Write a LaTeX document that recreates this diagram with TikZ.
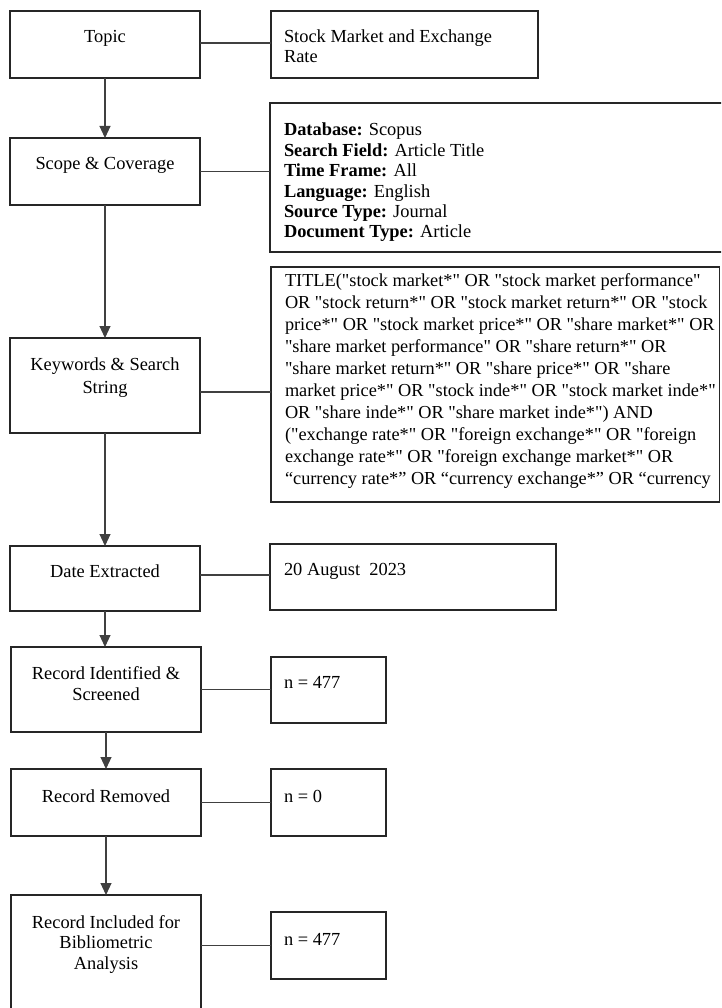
\documentclass[tikz,border=0pt]{standalone}
\usepackage{fontspec}
\setmainfont{Liberation Serif}[Ligatures=TeXOff]
\usetikzlibrary{arrows.meta,fit}
\begin{document}
\begin{tikzpicture}[x=1pt,y=-1pt,
  box/.style={draw=black!85, line width=1.1pt, inner sep=0pt, outer sep=0pt},
  conn/.style={draw=black!75, line width=1.1pt},
  arr/.style={conn, -{Triangle[length=12pt,width=11pt]}},
  txt/.style={inner sep=0pt, outer sep=0pt, anchor=base, font=\fontsize{18.4}{21}\selectfont},
  mtxt/.style={inner sep=0pt, outer sep=0pt},
]
\useasboundingbox (0,0) rectangle (721,1008);
\clip (0,0) rectangle (721,1008);
\fill[white] (0,0) rectangle (721,1008);

% left column boxes
\node[box, fit={(10,11)(200,78)}] (topic) {};
\node[box, fit={(10,138)(200,205)}] (scope) {};
\node[box, fit={(10,338)(200,433)}] (kw) {};
\node[box, fit={(10,546)(200,611)}] (date) {};
\node[box, fit={(11,647)(201,732)}] (ident) {};
\node[box, fit={(11,769)(201,836)}] (removed) {};
\node[box, fit={(11,895)(201,1030)}] (incl) {};

% right column boxes
\node[box, fit={(271,11)(538,78)}] (stock) {};
\node[box, fit={(270,103)(740,252)}] (db) {};
\node[box, fit={(271,267)(719.5,502)}] (search) {};
\node[box, fit={(270,544)(556,610)}] (aug) {};
\node[box, fit={(271,657)(386,723)}] (na) {};
\node[box, fit={(271,769)(386,836)}] (nb) {};
\node[box, fit={(271,912)(386,979)}] (nc) {};

% texts
\node[txt] (tTopic) at (105,43) {Topic};
\node[txt] (tScope) at (105,170) {Scope \& Coverage};
\node[mtxt, anchor=north, align=center, font=\fontsize{18.4}{23}\selectfont] (tKw) at (105,353.9) {\strut Keywords \& Search\\String};
\node[txt] (tDate) at (105,577) {Date Extracted};
\node[mtxt, anchor=north, align=center, font=\fontsize{18.4}{21}\selectfont] (tIdent) at (106,664.3) {\strut Record Identified \&\\Screened};
\node[txt] (tRemoved) at (106,802) {Record Removed};
\node[mtxt, anchor=north, align=center, font=\fontsize{18.4}{20.5}\selectfont] (tIncl) at (106,913.65) {\strut Record Included for\\Bibliometric\\Analysis};

\node[mtxt, anchor=north west, align=left, font=\fontsize{18.4}{20}\selectfont] (tStock) at (284,29) {\strut Stock Market and Exchange\\Rate};
\node[mtxt, anchor=north west, align=left, font=\fontsize{18.4}{20.4}\selectfont] (tDb) at (284,121.7) {\strut\textbf{Database:} Scopus\\
\textbf{Search Field:} Article Title\\
\textbf{Time Frame:} All\\
\textbf{Language:} English\\
\textbf{Source Type:} Journal\\
\textbf{Document Type:} Article};
\node[mtxt, anchor=north west, align=left, font=\fontsize{18.3}{22.04}\selectfont] (tSearch) at (285,270.6) {\strut TITLE("stock market*" OR "stock market performance"\\
OR "stock return*" OR "stock market return*" OR "stock\\
price*" OR "stock market price*" OR "share market*" OR\\
"share market performance" OR "share return*" OR\\
"share market return*" OR "share price*" OR "share\\
market price*" OR "stock inde*" OR "stock market inde*"\\
OR "share inde*" OR "share market inde*") AND\\
("exchange rate*" OR "foreign exchange*" OR "foreign\\
exchange rate*" OR "foreign exchange market*" OR\\
“currency rate*” OR “currency exchange*” OR “currency};
\node[txt, anchor=base west] (tAug) at (284,575) {20 August\ \ 2023};
\node[txt, anchor=base west] (tNa) at (284,688) {n = 477};
\node[txt, anchor=base west] (tNb) at (284,802) {n = 0};
\node[txt, anchor=base west] (tNc) at (284,945) {n = 477};

% horizontal connectors
\draw[conn] ([yshift=1.5pt]topic.east) -- ([yshift=1.5pt]topic.east -| stock.west);
\draw[conn] (scope.east) -- (scope.east -| db.west);
\draw[conn] ([yshift=-6.5pt]kw.east) -- ([yshift=-6.5pt]kw.east -| search.west);
\draw[conn] ([yshift=3.5pt]date.east) -- ([yshift=3.5pt]date.east -| aug.west);
\draw[conn] (ident.east) -- (ident.east -| na.west);
\draw[conn] (removed.east) -- (removed.east -| nb.west);
\draw[conn] (nc.west -| incl.east) -- (nc.west);

% vertical arrows
\draw[arr] (topic.south) -- (scope.north);
\draw[arr] (scope.south) -- (kw.north);
\draw[arr] (kw.south) -- (date.north);
\draw[arr] (date.south) -- (date.south |- ident.north);
\draw[arr] (ident.south) -- (removed.north);
\draw[arr] (removed.south) -- (incl.north);
\end{tikzpicture}
\end{document}
